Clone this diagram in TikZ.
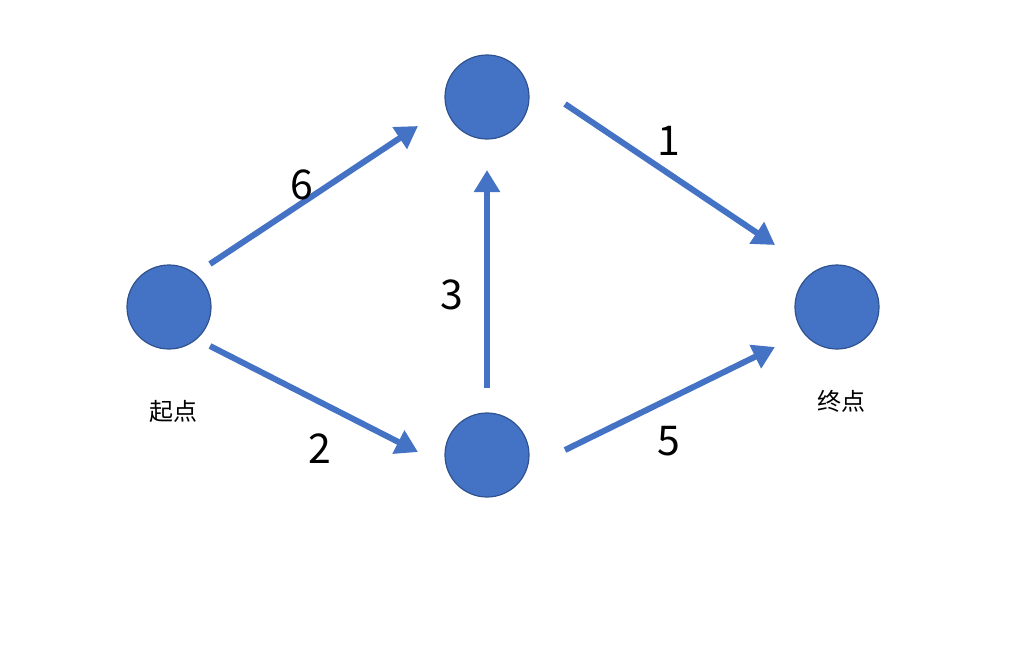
\documentclass[tikz,border=0pt]{standalone}
\usepackage{fontspec}
\setmainfont{Noto Sans CJK SC}
\usetikzlibrary{arrows.meta}
\definecolor{nodefill}{HTML}{4472C4}
\definecolor{nodeedge}{HTML}{2F528F}
\tikzset{
  vert/.style={circle, fill=nodefill, draw=nodeedge, line width=1.2pt, minimum size=84pt, inner sep=0pt},
  edge/.style={draw=nodefill, line width=6pt, -{Triangle[width=25pt,length=22pt]}},
  wlabel/.style={font=\fontsize{41pt}{41pt}\selectfont, text=black},
  clabel/.style={font=\fontsize{24pt}{24pt}\selectfont, text=black}
}
\begin{document}
\begin{tikzpicture}[x=1pt,y=-1pt]
\useasboundingbox (0,0) rectangle (1010,648);
\node[vert] (s) at (169,307) {};
\node[vert] (t) at (487,97) {};
\node[vert] (b) at (487,455) {};
\node[vert] (e) at (837,307) {};
\node[clabel] (sl) at (173,411) {起点};
\node[clabel] (el) at (841,401) {终点};
\coordinate (a1s) at (210,264); \coordinate (a1e) at (418,126);
\coordinate (a2s) at (210,346); \coordinate (a2e) at (418,452);
\coordinate (a3s) at (487,388); \coordinate (a3e) at (487,170);
\coordinate (a4s) at (565,104); \coordinate (a4e) at (775,245);
\coordinate (a5s) at (565,450); \coordinate (a5e) at (775,347);
\draw[edge] (a1s) -- (a1e);
\draw[edge] (a2s) -- (a2e);
\draw[edge] (a3s) -- (a3e);
\draw[edge] (a4s) -- (a4e);
\draw[edge] (a5s) -- (a5e);
\node[wlabel] (l6) at (302,185) {6};
\node[wlabel] (l2) at (320,449) {2};
\node[wlabel] (l3) at (452,295) {3};
\node[wlabel] (l1) at (669,141) {1};
\node[wlabel] (l5) at (669,441) {5};
\end{tikzpicture}
\end{document}
